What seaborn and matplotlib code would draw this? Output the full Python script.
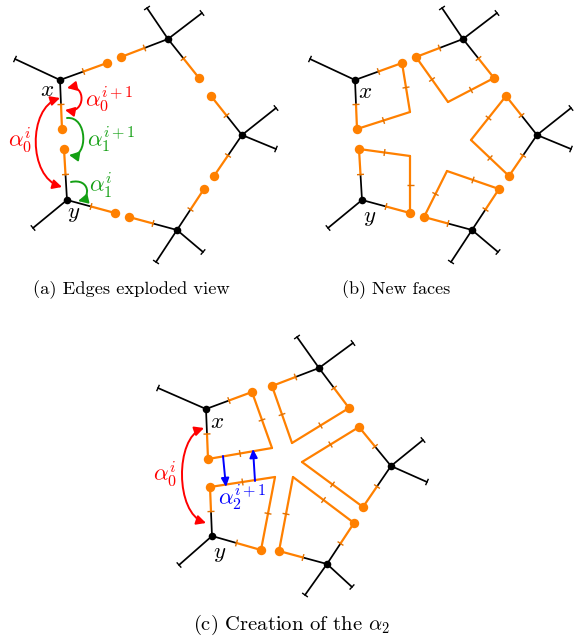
import numpy as np
import matplotlib
matplotlib.use("Agg")
import matplotlib.pyplot as plt
from matplotlib.patches import FancyArrowPatch
from matplotlib.path import Path
import seaborn as sns

sns.set_theme(style="white")
plt.rcParams["mathtext.fontset"] = "cm"
plt.rcParams["font.family"] = ["cmr10", "DejaVu Serif"]
plt.rcParams["axes.unicode_minus"] = False
plt.rcParams["text.color"] = "black"

ORANGE = "#ff8000"
TICK_ORANGE = "#e27100"
RED = "#ff0000"
GREEN = "#14a014"
BLUE = "#0000ff"
BLACK = "#000000"

# Pentagon vertices, walked in the order x -> top -> right -> bottom -> y
node_names = ["x", "top", "right", "bottom", "y"]

# ---- panels (a) and (b): same graph, (b) is shifted to the right ----
nodes_ab_x = [60, 168, 242, 177, 67]
nodes_ab_y = [80, 39, 135, 230, 200]
spokes_ab = {
    "x": [(15, 59)],
    "top": [(147, 8), (202, 13)],
    "right": [(276, 108), (276, 149)],
    "bottom": [(156, 262), (203, 252)],
    "y": [(33, 228)],
}
# free end of the half-edge going to the next / previous vertex
dart_next_ab = [(107, 63), (199, 78), (214, 176), (129, 217), (64, 149)]
dart_prev_ab = [(62, 129), (121, 57), (211, 96), (204, 189), (115, 213)]
# inner corner closing each new face
inner_ab = [(115, 112), (153, 102), (176, 140), (152, 171), (115, 156)]
shift_b = 295

# ---- panel (c) ----
nodes_c_x = [206, 319, 391, 327, 212]
nodes_c_y = [409, 368, 466, 564, 536]
spokes_c = {
    "x": [(158, 388)],
    "top": [(297, 337), (353, 343)],
    "right": [(423, 440), (427, 482)],
    "bottom": [(305, 595), (352, 587)],
    "y": [(179, 565)],
}
dart_next_c = [(252, 392), (349, 408), (363, 507), (279, 551), (210, 487)]
dart_prev_c = [(208, 459), (272, 386), (359, 427), (354, 523), (261, 550)]
inner_c = [(272, 448), (292, 443), (302, 462), (293, 477), (275, 477)]

captions = ["(a) Edges exploded view", "(b) New faces",
            r"(c) Creation of the $\alpha_2$"]
caption_pos = [(131, 290), (396, 290), (291, 625)]
caption_size = [13.3, 13.0, 14.8]

fig = plt.figure(figsize=(5.74, 6.39), dpi=100)
ax = fig.add_axes([0, 0, 1, 1])

LW_BLACK = 1.25
LW_ORANGE = 1.6


def bar(p, q, at, length, color, lw):
    """Short bar perpendicular to segment p-q, centred at fraction `at`."""
    p = np.asarray(p, float)
    q = np.asarray(q, float)
    d = q - p
    d /= np.hypot(*d)
    n = np.array([-d[1], d[0]])
    c = p + (q - p) * at
    a, b = c - n * length / 2, c + n * length / 2
    ax.plot([a[0], b[0]], [a[1], b[1]], color=color, lw=lw,
            solid_capstyle="butt", zorder=3)


def spoke(node, end):
    ax.plot([node[0], end[0]], [node[1], end[1]], color=BLACK, lw=LW_BLACK,
            zorder=2)
    bar(node, end, 1.0, 7, BLACK, 1.0)


def half_edge(node, dot):
    mid = ((node[0] + dot[0]) / 2, (node[1] + dot[1]) / 2)
    ax.plot([node[0], mid[0]], [node[1], mid[1]], color=BLACK, lw=LW_BLACK,
            zorder=2)
    ax.plot([mid[0], dot[0]], [mid[1], dot[1]], color=ORANGE, lw=LW_ORANGE,
            zorder=2)
    bar(node, dot, 0.5, 7, TICK_ORANGE, 1.0)


def new_edge(p, q):
    ax.plot([p[0], q[0]], [p[1], q[1]], color=ORANGE, lw=LW_ORANGE, zorder=2)
    bar(p, q, 0.5, 7, TICK_ORANGE, 1.0)


def draw_graph(nx_, ny_, spokes, dnext, dprev, inner=None, dx=0):
    nodes = [(a + dx, b) for a, b in zip(nx_, ny_)]
    shift = lambda pts: [(a + dx, b) for a, b in pts]
    dnext, dprev = shift(dnext), shift(dprev)
    for name, nd in zip(node_names, nodes):
        for e in shift(spokes[name]):
            spoke(nd, e)
    for i, nd in enumerate(nodes):
        half_edge(nd, dnext[i])
        half_edge(nd, dprev[i])
    if inner is not None:
        inner = shift(inner)
        for i in range(len(nodes)):
            new_edge(dnext[i], inner[i])
            new_edge(inner[i], dprev[i])
    dots = dnext + dprev
    sns.scatterplot(x=[p[0] for p in dots], y=[p[1] for p in dots],
                    color=ORANGE, s=46, linewidth=0, ax=ax, zorder=4,
                    legend=False)
    sns.scatterplot(x=[p[0] for p in nodes], y=[p[1] for p in nodes],
                    color=BLACK, s=30, linewidth=0, ax=ax, zorder=5,
                    legend=False)


draw_graph(nodes_ab_x, nodes_ab_y, spokes_ab, dart_next_ab, dart_prev_ab)
draw_graph(nodes_ab_x, nodes_ab_y, spokes_ab, dart_next_ab, dart_prev_ab,
           inner_ab, dx=shift_b)
draw_graph(nodes_c_x, nodes_c_y, spokes_c, dart_next_c, dart_prev_c, inner_c)


def curved_arrow(p0, c0, c1, p1, color, style):
    path = Path([p0, c0, c1, p1],
                [Path.MOVETO, Path.CURVE4, Path.CURVE4, Path.CURVE4])
    arr = FancyArrowPatch(path=path,
                          arrowstyle=style + ",head_length=5.5,head_width=2.8",
                          color=color, lw=1.4, mutation_scale=1, zorder=6)
    ax.add_patch(arr)


def straight_arrow(p0, p1, color):
    arr = FancyArrowPatch(p0, p1, arrowstyle="-|>,head_length=5,head_width=2.3",
                          color=color, lw=1.4, mutation_scale=1,
                          shrinkA=0, shrinkB=0, zorder=6)
    ax.add_patch(arr)


# involutions / permutations of panel (a)
curved_arrow((67, 88), (86, 84), (86, 114), (65, 110), RED, "<|-|>")
curved_arrow((60, 98), (28, 108), (28, 177), (62, 187), RED, "<|-|>")
curved_arrow((67, 118), (88, 116), (88, 158), (69, 155), GREEN, "-|>")
curved_arrow((71, 182), (90, 178), (91, 198), (78, 201), GREEN, "-|>")
# panel (c)
curved_arrow((204, 428), (175, 438), (175, 513), (206, 523), RED, "<|-|>")
straight_arrow((223, 456), (226, 487), BLUE)
straight_arrow((255, 481), (253, 449), BLUE)

LABEL = 16.5
ax.text(85, 99, r"$\alpha_0^{i+1}$", color=RED, fontsize=LABEL,
        ha="left", va="center")
ax.text(87, 139, r"$\alpha_1^{i+1}$", color=GREEN, fontsize=LABEL,
        ha="left", va="center")
ax.text(89, 185, r"$\alpha_1^{i}$", color=GREEN, fontsize=LABEL,
        ha="left", va="center")
ax.text(20, 140, r"$\alpha_0^{i}$", color=RED, fontsize=LABEL,
        ha="center", va="center")
ax.text(165, 474, r"$\alpha_0^{i}$", color=RED, fontsize=LABEL,
        ha="center", va="center")
ax.text(242, 497, r"$\alpha_2^{i+1}$", color=BLUE, fontsize=LABEL,
        ha="center", va="center", zorder=7)

vertex_labels = [("$x$", 47, 90), ("$y$", 74, 214), ("$x$", 365, 92),
                 ("$y$", 370, 218), ("$x$", 217, 422), ("$y$", 220, 554)]
for txt, px, py in vertex_labels:
    ax.text(px, py, txt, fontsize=LABEL, ha="center", va="center", zorder=7)

for txt, (px, py), fs in zip(captions, caption_pos, caption_size):
    ax.text(px, py, txt, fontsize=fs, ha="center", va="center")

ax.set_xlim(0, 574)
ax.set_ylim(639, 0)
ax.axis("off")
fig.savefig("out.png", dpi=100, facecolor="white")
